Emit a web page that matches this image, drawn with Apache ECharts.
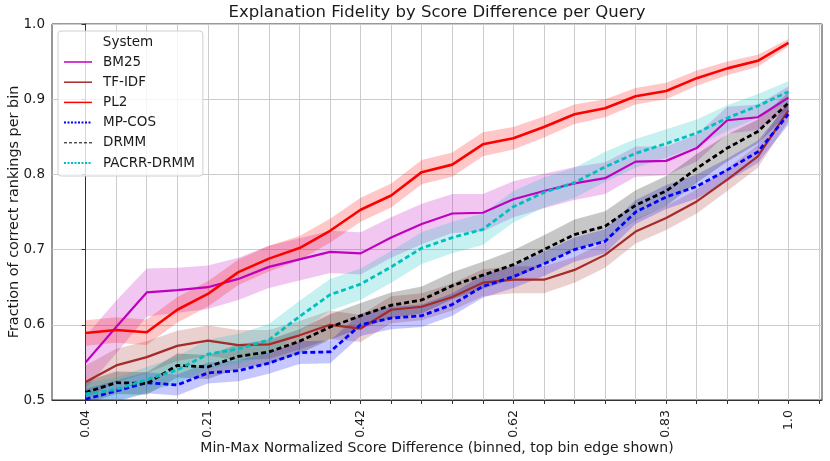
<!DOCTYPE html>
<html>
<head>
<meta charset="utf-8">
<script src="https://cdn.jsdelivr.net/npm/echarts@6/dist/echarts.min.js"></script>
<style>
  html, body { margin: 0; padding: 0; background: #fff; }
  #chartArea { width: 830px; height: 461px; }
</style>
</head>
<body>
<div id="chartArea"></div>
<script>
// bin index 0..23, labels shown on a few of them (top bin edge)
var tickBins   = [0,1,2,3,4,5,6,7,8,9,10,11,12,13,14,15,16,17,18,19,20,21,22,23,24];
var labelBins  = [0, 4, 9, 14, 19, 23];
var tickLabels = ['0.04', '0.21', '0.42', '0.62', '0.83', '1.0'];

var systems = ['BM25', 'TF-IDF', 'PL2', 'MP-COS', 'DRMM', 'PACRR-DRMM'];

var bm25   = [0.550, 0.597, 0.643, 0.646, 0.650, 0.661, 0.677, 0.687, 0.697, 0.695, 0.716, 0.734,
              0.748, 0.749, 0.767, 0.778, 0.788, 0.795, 0.817, 0.818, 0.835, 0.872, 0.876, 0.902];
var tfidf  = [0.524, 0.546, 0.557, 0.572, 0.579, 0.573, 0.574, 0.586, 0.600, 0.595, 0.620, 0.624,
              0.637, 0.656, 0.660, 0.660, 0.673, 0.693, 0.724, 0.742, 0.764, 0.793, 0.824, 0.885];
var pl2    = [0.589, 0.593, 0.590, 0.620, 0.641, 0.670, 0.688, 0.702, 0.725, 0.753, 0.772, 0.803,
              0.813, 0.840, 0.848, 0.863, 0.880, 0.888, 0.904, 0.911, 0.928, 0.941, 0.951, 0.975];
var mpcos  = [0.501, 0.512, 0.523, 0.520, 0.536, 0.539, 0.549, 0.563, 0.564, 0.600, 0.609, 0.612,
              0.627, 0.651, 0.664, 0.681, 0.700, 0.711, 0.750, 0.770, 0.784, 0.806, 0.830, 0.880];
var drmm   = [0.510, 0.523, 0.522, 0.546, 0.544, 0.558, 0.564, 0.578, 0.597, 0.612, 0.626, 0.633,
              0.652, 0.666, 0.680, 0.700, 0.720, 0.731, 0.759, 0.778, 0.808, 0.835, 0.857, 0.895];
var pacrr  = [0.508, 0.514, 0.527, 0.540, 0.561, 0.568, 0.580, 0.611, 0.640, 0.654, 0.677, 0.702,
              0.716, 0.727, 0.757, 0.776, 0.789, 0.810, 0.828, 0.841, 0.855, 0.875, 0.891, 0.910];

// half width of the confidence band per bin
var bm25Ci  = [0.035, 0.035, 0.032, 0.030, 0.029, 0.028, 0.028, 0.028, 0.028, 0.028, 0.027, 0.027,
               0.026, 0.025, 0.024, 0.023, 0.022, 0.021, 0.020, 0.019, 0.018, 0.018, 0.017, 0.015];
var tfidfCi = [0.022, 0.022, 0.021, 0.020, 0.020, 0.020, 0.019, 0.019, 0.019, 0.018, 0.018, 0.018,
               0.018, 0.018, 0.018, 0.018, 0.017, 0.017, 0.016, 0.016, 0.016, 0.015, 0.015, 0.014];
var pl2Ci   = [0.017, 0.017, 0.017, 0.017, 0.017, 0.017, 0.017, 0.016, 0.016, 0.016, 0.016, 0.016,
               0.016, 0.016, 0.015, 0.014, 0.013, 0.012, 0.011, 0.011, 0.010, 0.009, 0.008, 0.005];
var mpcosCi = [0.014, 0.014, 0.014, 0.014, 0.014, 0.014, 0.014, 0.015, 0.015, 0.015, 0.015, 0.015,
               0.015, 0.015, 0.015, 0.016, 0.016, 0.016, 0.016, 0.016, 0.016, 0.015, 0.015, 0.014];
var drmmCi  = [0.015, 0.015, 0.015, 0.016, 0.016, 0.016, 0.016, 0.016, 0.017, 0.017, 0.017, 0.018,
               0.018, 0.018, 0.019, 0.019, 0.020, 0.020, 0.020, 0.020, 0.019, 0.018, 0.016, 0.014];
var pacrrCi = [0.015, 0.016, 0.017, 0.018, 0.019, 0.020, 0.021, 0.021, 0.021, 0.021, 0.021, 0.021,
               0.021, 0.021, 0.021, 0.020, 0.020, 0.020, 0.019, 0.019, 0.018, 0.017, 0.016, 0.014];

var FONT = 'DejaVu Sans';

var myChart = echarts.init(document.getElementById('chartArea'));

function toPoints(vals) {
    return vals.map(function(v, i) { return [i, v]; });
}

function bandSeries(name, vals, ci, color) {
    return {
        type: 'custom',
        name: name + ' band',
        silent: true,
        clip: true,
        z: 1,
        data: [[0, vals[0]]],
        renderItem: function(params, api) {
            var pts = [];
            for (var i = 0; i < vals.length; i++) {
                pts.push(api.coord([i, vals[i] + ci[i]]));
            }
            for (var j = vals.length - 1; j >= 0; j--) {
                pts.push(api.coord([j, vals[j] - ci[j]]));
            }
            return {
                type: 'polygon',
                shape: { points: pts },
                style: { fill: color, opacity: 0.22 }
            };
        }
    };
}

function lineSeries(name, vals, color, width, type) {
    return {
        type: 'line',
        name: name,
        data: toPoints(vals),
        symbol: 'none',
        z: 3,
        lineStyle: { color: color, width: width, type: type },
        itemStyle: { color: color },
        emphasis: { disabled: true }
    };
}

var colors = {
    'BM25': '#bf00bf',
    'TF-IDF': '#a52a2a',
    'PL2': '#ff0000',
    'MP-COS': '#0000ff',
    'DRMM': '#000000',
    'PACRR-DRMM': '#00bfbf'
};

var option = {
    animation: false,
    backgroundColor: '#ffffff',
    textStyle: { fontFamily: FONT },
    grid: {
        left: 52, right: 8, top: 24, bottom: 61,
        outerBoundsMode: 'none',
        containLabel: false,
        show: true, borderColor: '#333', borderWidth: 1,
        backgroundColor: 'transparent'
    },
    legend: {
        orient: 'vertical',
        left: 58, top: 31,
        padding: [24, 8, 6, 5],
        itemWidth: 28, itemHeight: 14, itemGap: 6.2,
        backgroundColor: 'rgba(255,255,255,0.8)',
        borderColor: '#d0d0d0', borderWidth: 1, borderRadius: 3,
        itemStyle: { opacity: 0 },
        textStyle: { fontFamily: FONT, fontSize: 13.5, color: '#1a1a1a', padding: [0, 0, 0, 6] },
        data: [
            { name: 'BM25', lineStyle: { width: 1.5, type: 'solid' } },
            { name: 'TF-IDF', lineStyle: { width: 1.5, type: 'solid' } },
            { name: 'PL2', lineStyle: { width: 1.5, type: 'solid' } },
            { name: 'MP-COS', lineStyle: { width: 2, type: [2, 1.5] } },
            { name: 'DRMM', lineStyle: { width: 1, type: [3, 2] } },
            { name: 'PACRR-DRMM', lineStyle: { width: 2, type: [2, 1.5] } }
        ]
    },
    graphic: [{
        type: 'text',
        x: 437, y: 13, z: 100,
        style: {
            text: 'Explanation Fidelity by Score Difference per Query',
            font: '16.5px "DejaVu Sans"',
            fill: '#1a1a1a',
            textAlign: 'center',
            textVerticalAlign: 'middle'
        }
    }, {
        type: 'text',
        x: 128, y: 42, z: 100,
        style: {
            text: 'System',
            font: '13.5px "DejaVu Sans"',
            fill: '#1a1a1a',
            textAlign: 'center',
            textVerticalAlign: 'middle'
        }
    }],
    xAxis: {
        type: 'value',
        min: -1.1, max: 24.1,
        name: 'Min-Max Normalized Score Difference (binned, top bin edge shown)',
        nameLocation: 'middle',
        nameGap: 41,
        nameMoveOverlap: false,
        nameTextStyle: { fontFamily: FONT, fontSize: 14, color: '#1a1a1a' },
        axisLine: { show: true, onZero: false, lineStyle: { color: '#333', width: 1 } },
        axisTick: { show: true, length: 4, customValues: tickBins, lineStyle: { color: '#333' } },
        axisLabel: {
            customValues: labelBins,
            rotate: 90,
            margin: 10,
            fontFamily: FONT, fontSize: 12.5, color: '#1a1a1a',
            formatter: function(v) {
                var k = labelBins.indexOf(Math.round(v));
                return k >= 0 ? tickLabels[k] : '';
            }
        },
        splitLine: { show: true, lineStyle: { color: '#cccccc', width: 1 } }
    },
    yAxis: {
        type: 'value',
        min: 0.5, max: 1.0, interval: 0.1,
        name: 'Fraction of correct rankings per bin',
        nameLocation: 'middle',
        nameGap: 31,
        nameMoveOverlap: false,
        nameTextStyle: { fontFamily: FONT, fontSize: 14.4, color: '#1a1a1a' },
        axisLine: { show: true, lineStyle: { color: '#333', width: 1 } },
        axisTick: { show: true, length: 4, lineStyle: { color: '#333' } },
        axisLabel: {
            fontFamily: FONT, fontSize: 13.5, color: '#1a1a1a', margin: 7,
            formatter: function(v) { return v.toFixed(1); }
        },
        splitLine: { show: true, lineStyle: { color: '#cccccc', width: 1 } }
    },
    series: [
        bandSeries('BM25', bm25, bm25Ci, colors['BM25']),
        bandSeries('TF-IDF', tfidf, tfidfCi, colors['TF-IDF']),
        bandSeries('PL2', pl2, pl2Ci, colors['PL2']),
        bandSeries('MP-COS', mpcos, mpcosCi, colors['MP-COS']),
        bandSeries('DRMM', drmm, drmmCi, colors['DRMM']),
        bandSeries('PACRR-DRMM', pacrr, pacrrCi, colors['PACRR-DRMM']),
        lineSeries('BM25', bm25, colors['BM25'], 2.2, 'solid'),
        lineSeries('TF-IDF', tfidf, colors['TF-IDF'], 2.2, 'solid'),
        lineSeries('PL2', pl2, colors['PL2'], 2.6, 'solid'),
        lineSeries('MP-COS', mpcos, colors['MP-COS'], 2.8, [5, 3]),
        lineSeries('DRMM', drmm, colors['DRMM'], 2.8, [5, 3]),
        lineSeries('PACRR-DRMM', pacrr, colors['PACRR-DRMM'], 2.8, [5, 3])
    ]
};

myChart.setOption(option);
</script>
</body>
</html>
